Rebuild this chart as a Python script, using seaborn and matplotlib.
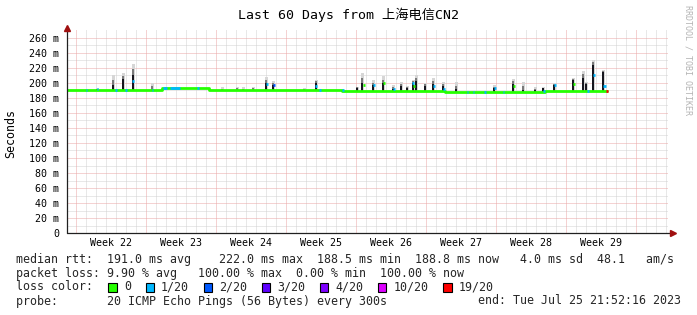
import numpy as np
import pandas as pd
import matplotlib
matplotlib.use("Agg")
import matplotlib.pyplot as plt
import seaborn as sns
from matplotlib.patches import Rectangle

# ---------------- data (x = days since graph start, values in ms) ----------------
median_day = [0.0, 9.5, 14.2, 27.5, 37.8, 47.8, 54.0]
median_ms = [190.7, 192.7, 190.8, 189.1, 188.5, 189.0, 189.0]

# smoke spikes: day, top of dense (dark) smoke, top of light smoke
spike_day = [3.0, 4.6, 5.6, 6.6, 8.5, 15.5, 17.0, 17.6, 18.6, 19.9, 20.6, 23.7, 24.9,
             29.0, 29.5, 30.6, 31.6, 32.6, 33.4, 34.0, 34.6, 34.9, 35.8, 36.6, 37.6,
             38.9, 42.7, 44.6, 45.6, 46.8, 47.6, 48.7, 50.6, 51.6, 51.9, 52.6, 53.6]
spike_dense = [192, 197, 205, 211, 191, 191, 191, 191, 191, 200, 197, 190, 200,
               193, 200, 197, 200, 192, 196, 193, 200, 203, 196, 199, 196,
               192, 193, 199, 190, 190, 193, 197, 204, 207, 199, 224, 215]
spike_smoke = [193, 211, 213, 225, 200, 194, 195, 194, 195, 208, 203, 193, 204,
               195, 213, 204, 209, 197, 201, 196, 204, 211, 200, 207, 201,
               201, 197, 205, 201, 195, 194, 200, 207, 216, 201, 231, 217]

# median marks coloured by loss: start day, end day, median ms, loss level index
loss_start = [1.9, 3.0, 4.8, 5.8, 6.5, 8.5, 9.6, 10.3, 13.0, 19.9, 20.6, 24.8, 25.2,
              27.5, 29.6, 30.6, 31.6, 32.6, 34.5, 34.6, 36.6, 37.6, 40.0, 40.6, 41.7,
              42.7, 43.6, 44.6, 47.6, 48.7, 50.6, 52.0, 52.6, 53.6, 53.9]
loss_end = [2.0, 3.1, 5.0, 6.0, 6.7, 8.6, 10.0, 11.3, 13.2, 20.1, 20.8, 25.0, 25.4,
            27.7, 29.8, 30.8, 31.8, 32.8, 34.7, 34.8, 36.8, 37.8, 40.1, 40.7, 41.9,
            42.9, 43.7, 44.8, 47.8, 48.9, 50.8, 52.2, 52.8, 53.9, 54.1]
loss_ms = [190.7, 191.5, 190.7, 190.7, 203, 190.7, 192.7, 192.7, 192.7, 198, 197, 196, 190.8,
           190.0, 197, 197, 200, 192, 200, 196, 196, 192, 188.5, 188.5, 188.5,
           193, 188.5, 196, 189.0, 197, 198, 189.0, 211, 196, 189.0]
loss_level = [1, 1, 1, 1, 1, 1, 1, 1, 1, 1, 2, 1, 1,
              1, 0, 1, 0, 1, 1, 0, 1, 1, 1, 1, 1,
              1, 1, 0, 1, 1, 0, 1, 1, 1, 6]

loss_labels = ["0", "1/20", "2/20", "3/20", "4/20", "10/20", "19/20"]
loss_colors = ["#26ff00", "#00b8ff", "#0059ff", "#5e00ff", "#7e00ff", "#dd00ff", "#ff0000"]

week_labels = ["Week 22", "Week 23", "Week 24", "Week 25", "Week 26", "Week 27", "Week 28", "Week 29"]
y_ticks = list(range(0, 261, 20))

title = "Last 60 Days from 上海电信CN2"
line_rtt = "median rtt:  191.0 ms avg    222.0 ms max  188.5 ms min  188.8 ms now   4.0 ms sd  48.1   am/s"
line_loss = "packet loss: 9.90 % avg   100.00 % max  0.00 % min  100.00 % now"
line_probe = "probe:       20 ICMP Echo Pings (56 Bytes) every 300s"
line_end = "end: Tue Jul 25 21:52:16 2023"

# ---------------- style ----------------
sns.set_theme(style="white")
plt.rcParams["font.family"] = ["DejaVu Sans Mono"]
MONO = "DejaVu Sans Mono"

W, H = 697, 315
fig = plt.figure(figsize=(W / 100, H / 100), dpi=100)
fig.patch.set_facecolor("white")
ax = fig.add_axes([67 / W, (H - 233) / H, 601 / W, 202.5 / H])
ax.set_facecolor("white")
ax.set_xlim(0, 60.1)
ax.set_ylim(0, 270)
for s in ax.spines.values():
    s.set_visible(False)

GRAY = "#d2d2d2"
RED = "#eba6a6"
dot = (0, (1, 1))
# minor grid
for k in range(60):
    d = 0.9 + k
    if k % 7:
        ax.axvline(d, color=GRAY, lw=0.72, ls=dot, zorder=0)
for v in range(10, 270, 10):
    if v % 20:
        ax.axhline(v, color=GRAY, lw=0.72, ls=dot, zorder=0)
# major grid
for k in range(0, 60, 7):
    ax.axvline(0.9 + k, color=RED, lw=0.72, ls=dot, zorder=0.5)
for v in range(20, 270, 20):
    ax.axhline(v, color=RED, lw=0.72, ls=dot, zorder=0.5)

# ---------------- smoke ----------------
def median_at(d):
    i = np.searchsorted(median_day, d, side="right") - 1
    return median_ms[max(0, min(i, len(median_ms) - 1))]

base = np.array([median_at(d) for d in spike_day])
sd = np.array(spike_dense, float)
ss = np.array(spike_smoke, float)
mid = (sd + ss) / 2
ax.bar(spike_day, ss - base, bottom=base, width=0.3, color="#d6d6d6", linewidth=0, zorder=2)
ax.bar(spike_day, mid - base, bottom=base, width=0.24, color="#7a7a7a", linewidth=0, zorder=2.1)
ax.bar(spike_day, np.maximum(sd - base, 0), bottom=base, width=0.2, color="#16161e", linewidth=0, zorder=2.2)

# ---------------- median line ----------------
med_df = pd.DataFrame({"day": median_day, "ms": median_ms})
sns.lineplot(data=med_df, x="day", y="ms", drawstyle="steps-post", color=loss_colors[0],
             lw=2.0, sort=False, estimator=None, ax=ax, zorder=3)
ax.hlines(loss_ms, loss_start, loss_end, colors=[loss_colors[i] for i in loss_level],
          lw=2.0, zorder=3.5)

# ---------------- axes ----------------
ax.set_xlabel("")
ax.set_ylabel("")
ax.set_yticks(y_ticks)
ax.set_yticklabels(["0"] + [f"{v} m" for v in y_ticks[1:]])
ax.set_xticks([4.4 + 7 * k for k in range(len(week_labels))])
ax.set_xticklabels(week_labels)
ax.tick_params(axis="y", length=0, pad=5.5, labelsize=7.2, labelcolor="#000000")
ax.tick_params(axis="x", length=0, pad=3.5, labelsize=7.2, labelcolor="#000000")
for lab in ax.get_xticklabels() + ax.get_yticklabels():
    lab.set_family(MONO)

AX = "#202020"
ax.plot([0, 1.006], [0, 0], transform=ax.transAxes, color=AX, lw=0.9, clip_on=False, zorder=5)
ax.plot([0, 0], [0, 1.01], transform=ax.transAxes, color=AX, lw=0.9, clip_on=False, zorder=5)
ax.plot([1.008], [0], transform=ax.transAxes, marker=">", ms=4, color="#a01010", mec="#a01010",
        clip_on=False, zorder=6)
ax.plot([0], [1.013], transform=ax.transAxes, marker="^", ms=4, color="#a01010", mec="#a01010",
        clip_on=False, zorder=6)

# ---------------- texts ----------------
def px(x, y):
    return x / W, 1 - y / H

fig.text(*px(348, 15), title, ha="center", va="center", fontsize=9.5,
         family=["DejaVu Sans Mono", "Noto Sans CJK SC"], color="#000000")
fig.text(*px(11, 133), "Seconds", rotation=90, ha="center", va="center", fontsize=8.4,
         family=MONO, color="#000000")
fig.text(*px(688, 60), "RRDTOOL / TOBI OETIKER", rotation=-90, ha="center", va="center",
         fontsize=6, family=MONO, color="#b4b4b4")

FS = 8.4
CW = 7.0
fig.text(*px(16, 259), line_rtt, ha="left", va="center", fontsize=FS, family=MONO)
fig.text(*px(16, 273), line_loss, ha="left", va="center", fontsize=FS, family=MONO)
fig.text(*px(16, 287), "loss color:", ha="left", va="center", fontsize=FS, family=MONO)
fig.text(*px(16, 301), line_probe, ha="left", va="center", fontsize=FS, family=MONO)
fig.text(*px(16 + 66 * CW + 0.5, 301), line_end, ha="left", va="center", fontsize=FS, family=MONO)

cur = 13.2
for lab, col in zip(loss_labels, loss_colors):
    bx = 16 + cur * CW
    fig.add_artist(Rectangle(px(bx, 291.5), 8.5 / W, 8.5 / H, transform=fig.transFigure,
                             facecolor=col, edgecolor="#000000", lw=0.8))
    tcur = cur + 2.2
    fig.text(*px(16 + tcur * CW, 287), lab, ha="left", va="center", fontsize=FS, family=MONO)
    cur = tcur + len(lab) + 2.1

fig.savefig("out.png", dpi=100, facecolor="white")
